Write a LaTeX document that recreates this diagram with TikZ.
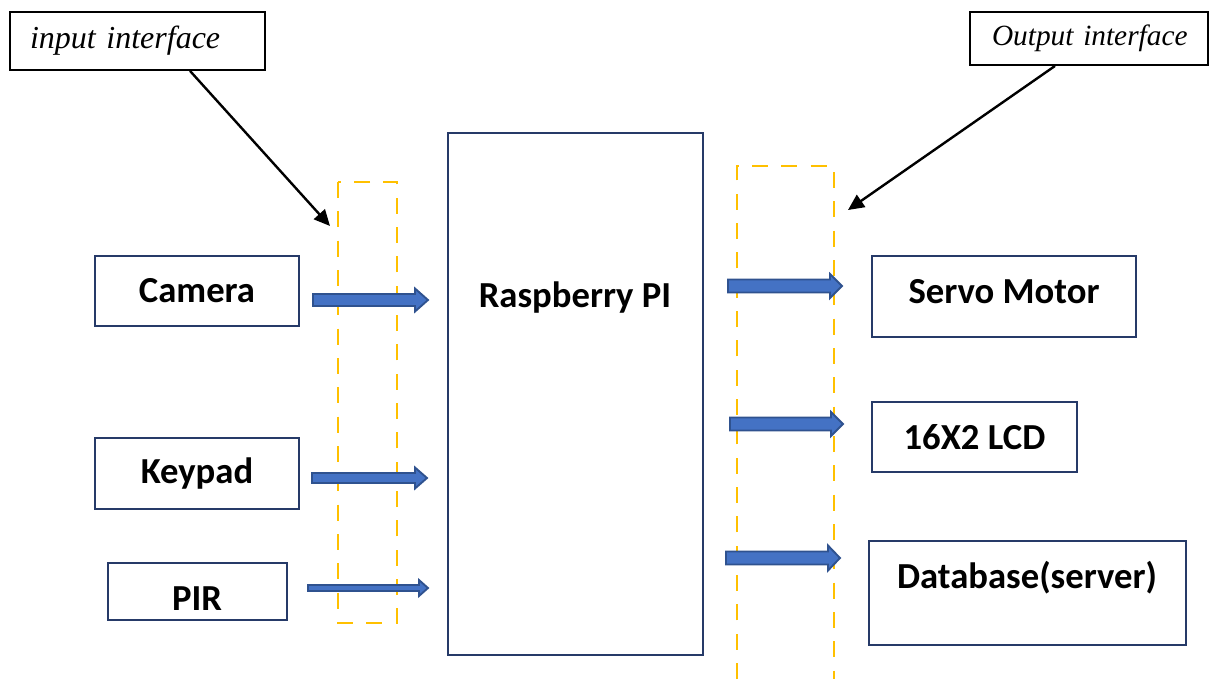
\documentclass[tikz,border=0pt]{standalone}
\usepackage{fontspec}
\setmainfont{Liberation Serif}
\newfontfamily\boxfont{Carlito}
\usepackage{xcolor}
\usepackage{tikz}
\usetikzlibrary{arrows.meta,positioning}
\definecolor{boxline}{RGB}{38,58,104}
\definecolor{arrfill}{RGB}{68,114,196}
\definecolor{arrline}{RGB}{47,82,143}
\definecolor{ifaceline}{RGB}{255,192,0}
\tikzset{
  unit/.style={draw=boxline, line width=1.8pt, minimum width=153pt, minimum height=52.5pt,
    inner sep=0pt, font=\boxfont\bfseries\fontsize{27.5}{33}\selectfont},
  unittext/.style={inner sep=0pt, font=\boxfont\bfseries\fontsize{27.5}{33}\selectfont},
  lblbox/.style={draw, line width=1.4pt, inner ysep=0pt, align=left, font=\itshape},
  iface/.style={draw=ifaceline, line width=2.1pt, dash pattern=on 12pt off 10pt},
  callout/.style={-{Triangle[length=12pt,width=11pt]}, line width=1.8pt},
  blockarrow/.style={fill=arrfill, draw=arrline, line width=1.4pt, line join=miter}
}
% #1=x start, #2=x tip, #3=y, #4=half shaft, #5=half head, #6=head length
\newcommand{\BlockArrow}[6]{%
  \draw[blockarrow] (#1,{#3-#4}) -- ({#2-#6},{#3-#4}) -- ({#2-#6},{#3-#5}) -- (#2,#3)
    -- ({#2-#6},{#3+#5}) -- ({#2-#6},{#3+#4}) -- (#1,{#3+#4}) -- cycle;%
}
\begin{document}
\begin{tikzpicture}[x=0.75pt, y=-0.75pt]
  \useasboundingbox (0,0) rectangle (1210,679);
  % interface callouts
  \node[lblbox, minimum width=191.25pt, minimum height=43.5pt, inner xsep=15pt,
    text width=161.25pt, font=\itshape\fontsize{24}{28}\selectfont] (inlbl) at (137.5,41) {\mbox{input interface}};
  \node[lblbox, minimum width=178.5pt, minimum height=39.75pt, inner xsep=16.5pt,
    text width=145.5pt, font=\itshape\fontsize{22}{26}\selectfont] (outlbl) at (1089,38.5) {\mbox{Output interface}};
  % dashed interface strips
  \draw[iface] (338,182) rectangle (397,623);
  \draw[iface] (737,679) -- (737,166) -- (834,166) -- (834,679);
  \coordinate (intip) at (330,226);
  \coordinate (outtip) at (848,210);
  \draw[callout] ([xshift=39.4pt]inlbl.south) -- (intip);
  \draw[callout] ([xshift=-25.5pt]outlbl.south) -- (outtip);
  % controller
  \node[unit, minimum width=191.25pt, minimum height=391.5pt] (rpi) at (575.5,394) {};
  \node[unittext] (rpitext) at (575,298) {Raspberry PI};
  % inputs
  \node[unit] (camera) at (197,291) {Camera};
  \node[unit, minimum height=53.25pt] (keypad) at (197,473.5) {Keypad};
  \node[unit, minimum width=134.25pt, minimum height=42.75pt] (pir) at (197.5,591.5) {};
  \node[unittext] (pirtext) at (197,599) {PIR};
  % outputs
  \node[unit, minimum width=198pt, minimum height=60.75pt] (servo) at (1004,296.5) {};
  \node[unittext] (servotext) at (1004,292) {Servo Motor};
  \node[unit, minimum width=153.75pt] (lcd) at (974.5,437) {16X2 LCD};
  \node[unit, minimum width=237.75pt, minimum height=78pt] (db) at (1027.5,593) {};
  \node[unittext] (dbtext) at (1027,578) {Database(server)};
  % block arrows
  \BlockArrow{313}{428}{300}{6}{11.5}{13}
  \BlockArrow{312}{427}{478}{5}{10.5}{12}
  \BlockArrow{308}{428}{588}{3}{8}{9}
  \BlockArrow{728}{842}{286}{6.5}{12}{12}
  \BlockArrow{730}{843}{424}{6.5}{12}{12}
  \BlockArrow{726}{840}{558}{6.5}{12.5}{12}
\end{tikzpicture}
\end{document}
